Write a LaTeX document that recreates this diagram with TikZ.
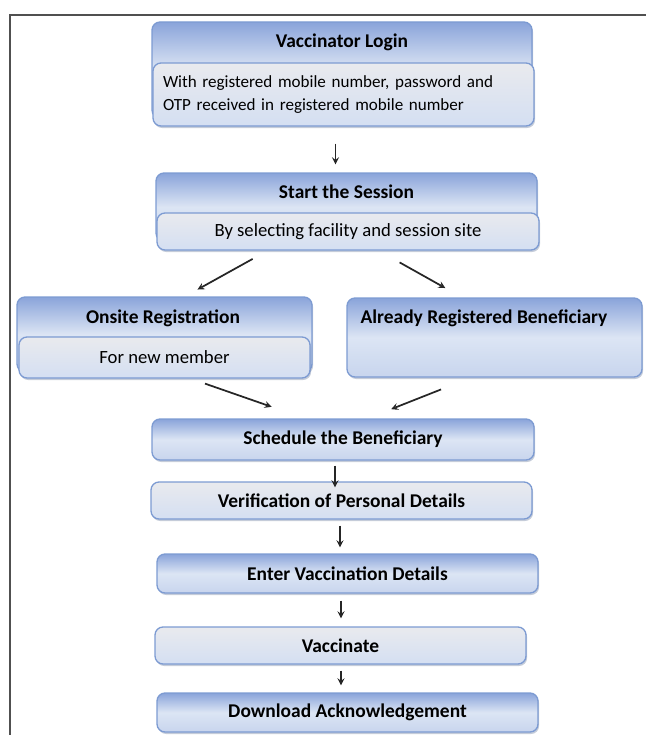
\documentclass[tikz,border=0pt]{standalone}
\usepackage{fontspec}
\setmainfont{Carlito}
\usepackage{tikz}
\usetikzlibrary{arrows,shapes,positioning,shadows,calc}
\usepackage{xcolor}
\definecolor{vxedge}{RGB}{125,155,210}
\definecolor{vxdark}{RGB}{138,164,218}
\definecolor{vxlight}{RGB}{220,229,244}
\definecolor{vxgray}{RGB}{233,234,238}
\definecolor{vxpale}{RGB}{212,223,242}
\definecolor{vxframe}{RGB}{80,80,80}
\tikzstyle{arrow} = [line width=1.3pt,->,>=stealth,color=black!85]
\tikzstyle{stepbox} = [rectangle, rounded corners=6pt, draw=vxedge, line width=1pt, top color=vxdark, bottom color=vxlight!75!vxdark, middle color=vxlight, drop shadow={shadow xshift=0.8pt, shadow yshift=-1.5pt, opacity=0.35, fill=vxedge!70!black}]
\tikzstyle{notebox} = [stepbox, top color=vxgray, bottom color=vxpale, middle color=vxgray!50!vxpale, font=\fontsize{14}{17}\selectfont]
\tikzstyle{steptitle} = [font=\fontsize{14.6}{17}\selectfont\bfseries]

\begin{document}
\begin{tikzpicture}[x=0.75pt, y=-0.75pt]
    \useasboundingbox (0,0) rectangle (646,735);
    % Page frame
    \draw[vxframe, line width=1.5pt] (10,735) -- (10,15) -- (646,15);

    % Login
    \node[stepbox, minimum width=285pt, minimum height=72pt] (login) at (342,70) {};
    \node[steptitle] (logintitle) at (342,42) {Vaccinator Login};
    \node[notebox, minimum width=285.75pt, minimum height=47.25pt, text width=270.75pt, align=left, font=\fontsize{12.8}{17.25}\selectfont] (loginsub) at (343.5,94.5) {With registered mobile number, password and\\OTP received in registered mobile number};

    % Session
    \node[stepbox, minimum width=285.75pt, minimum height=51pt] (session) at (346.5,207) {};
    \node[steptitle] (sessiontitle) at (346.5,192) {Start the Session};
    \node[notebox, minimum width=286.5pt, minimum height=27.75pt] (sessionsub) at (348,231.5) {By selecting facility and session site};

    % Registration
    \node[stepbox, minimum width=221.25pt, minimum height=56.25pt] (onsite) at (164.5,334.5) {};
    \node[steptitle] (onsitetitle) at (163,318) {Onsite Registration};
    \node[notebox, minimum width=218.25pt, minimum height=30.75pt] (onsitesub) at (164.5,357.5) {For new member};

    \node[stepbox, minimum width=221.25pt, minimum height=59.25pt] (already) at (494.5,337.5) {};
    \node[steptitle] (alreadytitle) at (484,318) {Already Registered Beneficiary};

    % Vaccination steps
    \node[stepbox, steptitle, minimum width=286.5pt, minimum height=30.75pt] (schedule) at (343,439.5) {Schedule the Beneficiary};
    \node[notebox, steptitle, minimum width=285.75pt, minimum height=27.75pt] (verify) at (341.5,500.5) {Verification of Personal Details};
    \node[stepbox, steptitle, minimum width=285.75pt, minimum height=29.25pt] (enter) at (347.5,573.5) {Enter Vaccination Details};
    \node[notebox, steptitle, minimum width=278.25pt, minimum height=27.75pt] (vaccinate) at (340.5,645.5) {Vaccinate};
    \node[stepbox, steptitle, minimum width=285.75pt, minimum height=29.25pt] (download) at (347.5,712.5) {Download Acknowledgement};

    % Arrows
    \draw[arrow, shorten <=12.75pt, shorten >=6pt] ([xshift=-6pt]loginsub.south) -- ([xshift=-6pt]loginsub.south |- session.north);
    \draw[arrow, shorten <=12.75pt, shorten >=10.5pt] ($(sessionsub.south west)!0.29!(sessionsub.south east)$) -- ($(onsite.north west)!0.57!(onsite.north east)$);
    \draw[arrow, shorten <=18pt, shorten >=14.25pt] ($(sessionsub.south west)!0.58!(sessionsub.south east)$) -- ($(already.north west)!0.39!(already.north east)$);
    \draw[arrow, shorten <=11.25pt, shorten >=26.25pt] ($(onsitesub.south west)!0.59!(onsitesub.south east)$) -- ($(schedule.north west)!0.40!(schedule.north east)$);
    \draw[arrow, shorten <=24pt, shorten >=18.75pt] ($(already.south west)!0.42!(already.south east)$) -- ($(schedule.north west)!0.565!(schedule.north east)$);
    \draw[arrow, shorten <=3.75pt, shorten >=-4.5pt] ([xshift=-6pt]schedule.south) -- ([xshift=-6pt]schedule.south |- verify.north);
    \draw[arrow, shorten <=4.5pt, shorten >=4.5pt] ([xshift=-1.1pt]verify.south) -- ([xshift=-1.1pt]verify.south |- enter.north);
    \draw[arrow, shorten <=5.25pt, shorten >=6pt] ([xshift=-4.9pt]enter.south) -- ([xshift=-4.9pt]enter.south |- vaccinate.north);
    \draw[arrow, shorten <=4.5pt, shorten >=5.25pt] ([xshift=0.4pt]vaccinate.south) -- ([xshift=0.4pt]vaccinate.south |- download.north);
\end{tikzpicture}
\end{document}
